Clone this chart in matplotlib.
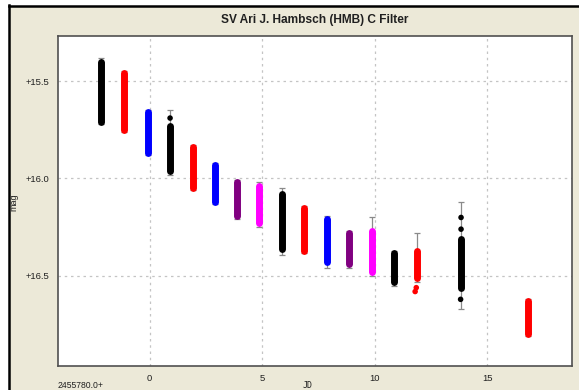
import matplotlib
matplotlib.use('Agg')
import matplotlib.pyplot as plt
from matplotlib.lines import Line2D
from matplotlib.patches import Rectangle
from matplotlib.ticker import FuncFormatter

# one cluster per night: JD offset, brightest / faintest mag, error bar extent, colour
jd = [-2.15, -1.12, -0.08, 0.91, 1.91, 2.91, 3.90, 4.88, 5.87, 6.88,
      7.87, 8.86, 9.87, 10.86, 11.87, 13.84, 16.80]
mag_bright = [15.40, 15.46, 15.66, 15.73, 15.84, 15.93, 16.02, 16.04, 16.08, 16.15,
              16.21, 16.28, 16.27, 16.38, 16.37, 16.31, 16.63]
mag_faint = [15.71, 15.75, 15.87, 15.96, 16.05, 16.12, 16.19, 16.23, 16.36, 16.37,
             16.43, 16.44, 16.48, 16.53, 16.51, 16.56, 16.80]
err_top = [15.38, 15.45, 15.65, 15.65, 15.83, 15.92, 16.01, 16.02, 16.05, 16.14,
           16.19, 16.27, 16.20, 16.37, 16.28, 16.12, 16.62]
err_bot = [15.72, 15.76, 15.88, 15.98, 16.06, 16.13, 16.21, 16.25, 16.39, 16.38,
           16.46, 16.46, 16.50, 16.55, 16.53, 16.67, 16.81]
colors = ['black', 'red', 'blue', 'black', 'red', 'blue', 'purple', 'magenta', 'black', 'red',
          'blue', 'purple', 'magenta', 'black', 'red', 'black', 'red']

# isolated points outside the dense columns
out_jd = [0.91, 11.80, 11.85, 13.84, 13.84, 13.82]
out_mag = [15.69, 16.58, 16.56, 16.20, 16.26, 16.62]
out_col = ['black', 'red', 'red', 'black', 'black', 'black']

xticks = [0, 5, 10, 15]
yticks = [15.5, 16.0, 16.5]

beige = '#ECE9D8'
W, H = 579, 390
fig = plt.figure(figsize=(W / 100, H / 100), dpi=100, facecolor='white')
fig.patches.append(Rectangle((9 / W, 0), 1 - 9 / W, 1 - 6 / H, transform=fig.transFigure,
                             facecolor=beige, edgecolor='none', zorder=-10))
fig.add_artist(Line2D([8.5 / W, 8.5 / W], [0, 1 - 4.5 / H], color='black', lw=1.8))
fig.add_artist(Line2D([8.5 / W, 1], [1 - 5.5 / H, 1 - 5.5 / H], color='black', lw=1.8))

ax = fig.add_axes([58 / W, 24 / H, (572 - 58) / W, (366 - 36) / H])
ax.set_facecolor('white')

# grey error bars with caps
for x, t, b in zip(jd, err_top, err_bot):
    ax.errorbar([x], [(t + b) / 2], yerr=[[(b - t) / 2], [(b - t) / 2]], fmt='none',
                ecolor='#8a8a8a', elinewidth=0.9, capsize=2.4, capthick=0.9, zorder=2)

# dense columns of observations
for x, t, b, c in zip(jd, mag_bright, mag_faint, colors):
    ax.vlines(x, t, b, colors=c, linewidth=5.0, capstyle='round', zorder=3)

ax.scatter(out_jd, out_mag, s=16, c=out_col, zorder=4, linewidths=0)

ax.set_xlim(-4.07, 18.77)
ax.set_ylim(16.962, 15.269)
ax.set_xticks(xticks)
ax.set_yticks(yticks)
ax.yaxis.set_major_formatter(FuncFormatter(lambda v, p: '+%.1f' % v))
ax.tick_params(length=0, labelsize=6.8, pad=6, colors='#202020')
ax.grid(True, color='#c4c4c4', linestyle=(0, (2, 3)), linewidth=0.9)
ax.set_axisbelow(True)
for s in ax.spines.values():
    s.set_color('#505050')
    s.set_linewidth(1.2)

for lbl in ax.get_xticklabels() + ax.get_yticklabels():
    lbl.set_family('Liberation Sans')

fig.text(315 / W, 1 - 20 / H, 'SV Ari J. Hambsch (HMB) C Filter', ha='center', va='center',
         fontsize=8.6, fontweight='bold', family='Liberation Sans', color='#202020')
fig.text(14 / W, 1 - 202 / H, 'mag', rotation=90, ha='center', va='center',
         fontsize=6.5, family='Liberation Sans', color='#202020')
fig.text(58 / W, 1 - 385 / H, '2455780.0+', ha='left', va='center',
         fontsize=6.2, family='Liberation Sans', color='#202020')
fig.text(308 / W, 1 - 385 / H, 'JD', ha='center', va='center',
         fontsize=6, family='DejaVu Sans Mono', color='#202020')

fig.savefig('out.png', dpi=100, facecolor=fig.get_facecolor())
